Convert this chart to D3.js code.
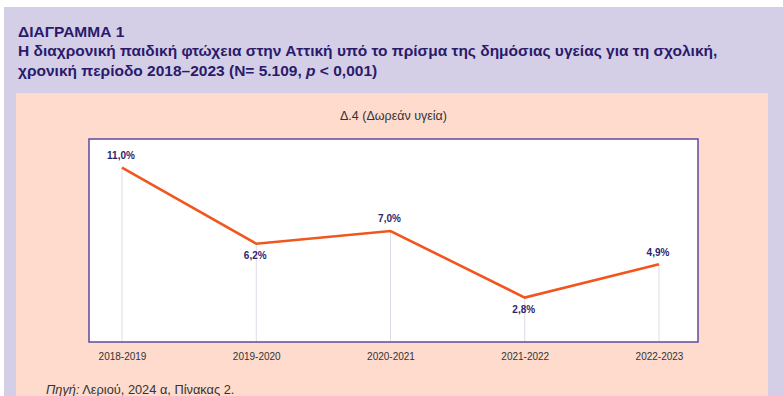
<!DOCTYPE html>
<html>
<head>
<meta charset="utf-8">
<script src="https://cdn.jsdelivr.net/npm/d3@7"></script>
<style>
  html, body { margin: 0; padding: 0; background: #fff; }
  svg { display: block; font-family: "Liberation Sans", Arial, sans-serif; }
</style>
</head>
<body>
<div id="chart"></div>
<script>
const years = ["2018-2019", "2019-2020", "2020-2021", "2021-2022", "2022-2023"];
const values = [11.0, 6.2, 7.0, 2.8, 4.9];
const valueLabels = ["11,0%", "6,2%", "7,0%", "2,8%", "4,9%"];
// label above (-1) or below (+1) the point
const labelSide = [-1, 1, -1, 1, -1];

const titleLines = [
  "ΔΙΑΓΡΑΜΜΑ 1",
  "Η διαχρονική παιδική φτώχεια στην Αττική υπό το πρίσμα της δημόσιας υγείας για τη σχολική,",
];
const subtitle = "Δ.4 (Δωρεάν υγεία)";

const W = 783, H = 396;
const box = { left: 89, right: 698, top: 139, bottom: 342 };

const svg = d3.select("#chart").append("svg")
  .attr("width", W)
  .attr("height", H);

// backgrounds
svg.append("rect")
  .attr("x", 4).attr("y", 7)
  .attr("width", W - 4).attr("height", H - 7)
  .attr("fill", "#d4cfe7");

svg.append("rect")
  .attr("x", 16).attr("y", 93)
  .attr("width", 768 - 16).attr("height", H - 93)
  .attr("fill", "#fedbcd");

// title
const titleColor = "#2b1a6b";
const titleSize = "15.5px";
svg.append("text")
  .attr("x", 18).attr("y", 37)
  .style("font-size", titleSize).style("font-weight", "bold")
  .attr("fill", titleColor)
  .text(titleLines[0]);

svg.append("text")
  .attr("x", 18).attr("y", 56)
  .style("font-size", titleSize).style("font-weight", "bold")
  .attr("fill", titleColor)
  .text(titleLines[1]);

const t3 = svg.append("text")
  .attr("x", 18).attr("y", 76)
  .style("font-size", titleSize).style("font-weight", "bold")
  .attr("fill", titleColor);
t3.append("tspan").text("χρονική περίοδο 2018–2023 (N= 5.109, ");
t3.append("tspan").style("font-style", "italic").text("p");
t3.append("tspan").text(" < 0,001)");

// chart subtitle
svg.append("text")
  .attr("x", (box.left + box.right) / 2).attr("y", 120)
  .attr("text-anchor", "middle")
  .style("font-size", "12.5px")
  .attr("fill", "#333")
  .text(subtitle);

// scales
const x = d3.scalePoint()
  .domain(years)
  .range([box.left + 33, box.right - 39]);

const y = d3.scaleLinear()
  .domain([0, 12.8])
  .range([box.bottom, box.top]);

// plot area
svg.append("rect")
  .attr("x", box.left).attr("y", box.top)
  .attr("width", box.right - box.left)
  .attr("height", box.bottom - box.top)
  .attr("fill", "#fff");

// drop lines
svg.selectAll("line.drop")
  .data(values)
  .enter()
  .append("line")
  .attr("class", "drop")
  .attr("x1", (d, i) => x(years[i]))
  .attr("x2", (d, i) => x(years[i]))
  .attr("y1", (d) => y(d))
  .attr("y2", box.bottom)
  .attr("stroke", "#dcdbe9")
  .attr("stroke-width", 1);

// border
svg.append("rect")
  .attr("x", box.left).attr("y", box.top)
  .attr("width", box.right - box.left)
  .attr("height", box.bottom - box.top)
  .attr("fill", "none")
  .attr("stroke", "#5e4a9c")
  .attr("stroke-width", 1.5);

// x axis labels
const xAxis = d3.axisBottom(x).tickSize(0).tickPadding(11);
const gx = svg.append("g")
  .attr("transform", `translate(0,${box.bottom})`)
  .call(xAxis);
gx.select(".domain").remove();
gx.selectAll("text")
  .style("font-size", "10px")
  .style("font-family", "\"Liberation Sans\", Arial, sans-serif")
  .attr("fill", "#333");

// line
const line = d3.line()
  .x((d, i) => x(years[i]))
  .y((d) => y(d));

svg.append("path")
  .datum(values)
  .attr("d", line)
  .attr("fill", "none")
  .attr("stroke", "#f0561e")
  .attr("stroke-width", 2.6)
  .attr("stroke-linejoin", "miter");

// value labels
svg.selectAll("text.val")
  .data(values)
  .enter()
  .append("text")
  .attr("class", "val")
  .attr("x", (d, i) => x(years[i]) - 1)
  .attr("y", (d, i) => y(d) + labelSide[i] * 12 + 3.5)
  .attr("text-anchor", "middle")
  .style("font-size", "10px")
  .style("font-weight", "bold")
  .attr("fill", "#2e1f6b")
  .text((d, i) => valueLabels[i]);

// source
const src = svg.append("text")
  .attr("x", 46).attr("y", 394)
  .style("font-size", "12.8px")
  .attr("fill", "#333");
src.append("tspan").style("font-style", "italic").text("Πηγή:");
src.append("tspan").text(" Λεριού, 2024 α, Πίνακας 2.");
</script>
</body>
</html>
